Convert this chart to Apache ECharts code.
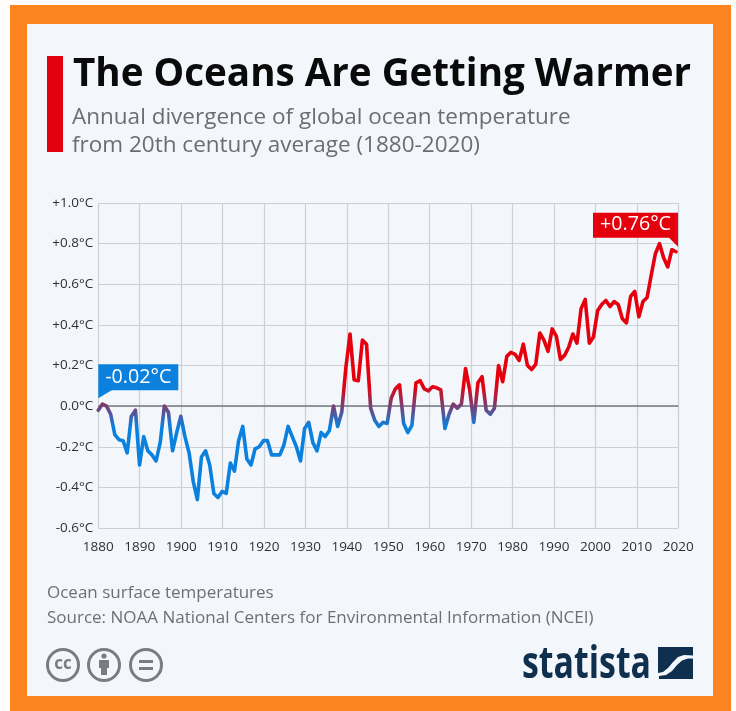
<!DOCTYPE html>
<html>
<head>
<meta charset="utf-8">
<style>html,body{margin:0;padding:0;background:#fff}#c{width:736px;height:711px}</style>
<script src="https://cdn.jsdelivr.net/npm/echarts@6/dist/echarts.min.js"></script>
</head>
<body>
<div id="c"></div>
<script>
// Annual ocean temperature anomaly against the 20th century average, in °C
const firstYear = 1880;
const anomalies = [
  -0.02, 0.01, 0.0, -0.04, -0.14, -0.165, -0.17, -0.23, -0.05, -0.02,
  -0.29, -0.15, -0.22, -0.24, -0.27, -0.18, 0.0, -0.03, -0.22, -0.13,
  -0.05, -0.15, -0.23, -0.37, -0.46, -0.25, -0.22, -0.29, -0.43, -0.45,
  -0.42, -0.43, -0.28, -0.32, -0.17, -0.10, -0.26, -0.29, -0.21, -0.20,
  -0.17, -0.17, -0.24, -0.24, -0.24, -0.19, -0.10, -0.15, -0.20, -0.27,
  -0.11, -0.08, -0.18, -0.22, -0.13, -0.15, -0.12, 0.0, -0.10, -0.03,
  0.19, 0.355, 0.13, 0.125, 0.325, 0.305, -0.01, -0.07, -0.10, -0.08,
  -0.085, 0.04, 0.085, 0.105, -0.085, -0.13, -0.095, 0.115, 0.125, 0.085,
  0.075, 0.095, 0.09, 0.08, -0.11, -0.04, 0.01, -0.01, 0.01, 0.185,
  0.08, -0.08, 0.115, 0.145, -0.02, -0.04, -0.01, 0.2, 0.12, 0.245,
  0.265, 0.255, 0.225, 0.305, 0.2, 0.18, 0.205, 0.36, 0.325, 0.27,
  0.38, 0.345, 0.23, 0.25, 0.29, 0.355, 0.31, 0.48, 0.525, 0.31,
  0.34, 0.47, 0.5, 0.52, 0.49, 0.515, 0.5, 0.43, 0.41, 0.54,
  0.565, 0.44, 0.515, 0.535, 0.645, 0.75, 0.80, 0.73, 0.685, 0.77,
  0.76
];
const titleText = 'The Oceans Are Getting Warmer';
const subtitleLines = ['Annual divergence of global ocean temperature', 'from 20th century average (1880-2020)'];
const footnoteLines = ['Ocean surface temperatures', 'Source: NOAA National Centers for Environmental Information (NCEI)'];
const yTickLabels = {'1': '+1.0°C', '0.8': '+0.8°C', '0.6': '+0.6°C', '0.4': '+0.4°C', '0.2': '+0.2°C', '0': '0.0°C',
  '-0.2': '-0.2°C', '-0.4': '-0.4°C', '-0.6': '-0.6°C'};

const FONT = '"Open Sans", sans-serif';
const BLUE = '#0b80dd', RED = '#e5000e', NAVY = '#0f2f4f', ICON = '#7a7c7f', GRID = '#ccd1d6';
const points = anomalies.map((v, i) => [firstYear + i, v]);

const chart = echarts.init(document.getElementById('c'), null, {renderer: 'canvas'});

const rect = (x, y, width, height, fill, z) => ({type: 'rect', z: z || 0, silent: true, shape: {x, y, width, height}, style: {fill}});
const text = (x, y, str, font, fill, align) => ({type: 'text', z: 10, silent: true, x, y,
  style: {text: str, font, fill, align: align || 'left', verticalAlign: 'middle'}});
const ring = (cx, cy) => ({type: 'circle', z: 10, silent: true, shape: {cx, cy, r: 15.5}, style: {fill: 'none', stroke: ICON, lineWidth: 3}});
const poly = (pts, fill, z) => ({type: 'polygon', z: z || 10, silent: true, shape: {points: pts}, style: {fill}});

const baseGraphics = [
  rect(0, 0, 736, 711, '#fffdfb', -3),
  rect(10, 5, 721, 706, '#fd8420', -2),
  rect(27, 24, 686, 672, '#f3f7fb', -1),
  rect(47, 56, 16, 96, '#e3000f'),
  text(73, 75, titleText, 'bold 38.6px ' + FONT, '#0a0a0a'),
  text(72, 118, subtitleLines[0], '22.5px ' + FONT, '#6a6e73'),
  text(72, 146, subtitleLines[1], '22.5px ' + FONT, '#6a6e73'),
  text(47, 593, footnoteLines[0], '17px ' + FONT, '#6c7074'),
  text(47, 618, footnoteLines[1], '17px ' + FONT, '#6c7074'),
  // Creative Commons badges
  ring(63, 665), text(63, 664, 'cc', 'bold 17px ' + FONT, ICON, 'center'),
  ring(104, 665),
  {type: 'circle', z: 10, silent: true, shape: {cx: 104, cy: 656, r: 2.6}, style: {fill: ICON}},
  poly([[99, 660], [109, 660], [109, 668], [107, 668], [107, 675], [101, 675], [101, 668], [99, 668]], ICON),
  ring(146, 665),
  rect(139, 660, 14, 3, ICON, 10), rect(139, 667, 14, 3, ICON, 10),
  // Publisher wordmark and emblem
  Object.assign(text(522, 665, 'statista', 'bold 44px ' + FONT, NAVY), {scaleX: 0.77}),
  poly([[658, 647], [693, 647], [693, 655.5], [684, 655], [678, 657], [673, 662], [668, 668], [663, 672], [658, 673]], NAVY),
  poly([[693, 658.5], [693, 679], [659, 679], [659, 676], [666, 675], [672, 671], [677, 665], [682, 660.5], [688, 658.5]], NAVY)
];

chart.setOption({
  animation: false,
  backgroundColor: '#fff',
  grid: {left: 98.3, right: 57.7, top: 203, bottom: 183},
  xAxis: [
    {type: 'value', min: 1880, max: 2020, interval: 10,
     axisLine: {show: false},
     axisTick: {show: true, length: 8, lineStyle: {color: GRID, width: 1.2}},
     axisLabel: {color: '#2e3134', fontFamily: FONT, fontSize: 13.5, margin: 12, formatter: v => String(v), hideOverlap: false},
     splitLine: {show: true, lineStyle: {color: GRID, width: 1.2}}},
    // Carries the yearly points, which sit a touch tighter than the labelled decades
    {type: 'value', min: 1880, max: 2020.56, show: false}
  ],
  yAxis: {type: 'value', min: -0.6, max: 1, interval: 0.2,
    axisLine: {show: false}, axisTick: {show: false},
    axisLabel: {color: '#2e3134', fontFamily: FONT, fontSize: 13.5, margin: 5,
      formatter: v => yTickLabels[String(Math.round(v * 10) / 10)]},
    splitLine: {lineStyle: {color: GRID, width: 1.2}}},
  visualMap: {show: false, type: 'continuous', seriesIndex: 0, dimension: 1, min: -0.1, max: 0.1,
    inRange: {color: [BLUE, RED]}},
  series: [{
    type: 'line', xAxisIndex: 1, data: points, showSymbol: false, symbol: 'none', z: 5,
    lineStyle: {width: 3.6, cap: 'round', join: 'round'},
    markLine: {silent: true, symbol: 'none', label: {show: false}, animation: false, z: 3,
      lineStyle: {color: '#77797c', width: 1.5, type: 'solid'},
      data: [{yAxis: 0}]}
  }],
  graphic: {elements: baseGraphics}
});

// Callouts anchored to the first and last readings
const yrPixel = (y, v) => chart.convertToPixel({xAxisIndex: 1, yAxisIndex: 0}, [y, v]);
const lastIndex = anomalies.length - 1;
const p0 = yrPixel(firstYear, anomalies[0]);
const p1 = yrPixel(firstYear + lastIndex, anomalies[lastIndex]);
const fmt = v => (v > 0 ? '+' : '') + v.toFixed(2) + '°C';
const calloutFont = '19.7px ' + FONT;
const extra = [
  rect(p0[0], p0[1] - 46, 80, 26, BLUE, 20),
  poly([[p0[0], p0[1] - 21], [p0[0] + 15, p0[1] - 21], [p0[0], p0[1] - 12]], BLUE, 20),
  Object.assign(text(p0[0] + 40, p0[1] - 33, fmt(anomalies[0]), calloutFont, '#fff', 'center'), {z: 21}),
  rect(p1[0] - 83, p1[1] - 39, 85, 25, RED, 20),
  poly([[p1[0] + 2, p1[1] - 15], [p1[0] - 8, p1[1] - 15], [p1[0] + 2, p1[1] - 5]], RED, 20),
  Object.assign(text(p1[0] - 40.5, p1[1] - 27, fmt(anomalies[lastIndex]), calloutFont, '#fff', 'center'), {z: 21})
];
chart.setOption({graphic: {elements: baseGraphics.concat(extra)}});
</script>
</body>
</html>
